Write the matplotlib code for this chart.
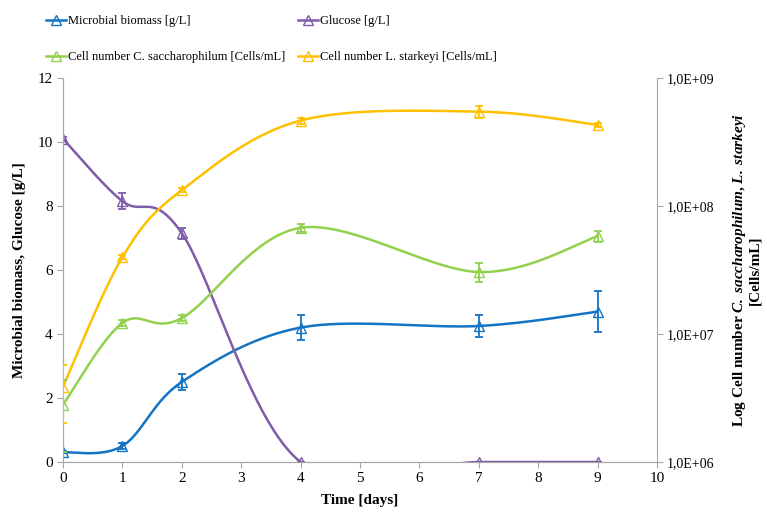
import numpy as np
import matplotlib
matplotlib.use("Agg")
import matplotlib.pyplot as plt
from matplotlib.ticker import FixedLocator, FuncFormatter, NullLocator
from matplotlib.lines import Line2D

plt.rcParams["font.family"] = "Liberation Serif"
plt.rcParams["mathtext.fontset"] = "custom"
plt.rcParams["mathtext.rm"] = "Liberation Serif"
plt.rcParams["mathtext.bf"] = "Liberation Serif:bold"
plt.rcParams["mathtext.it"] = "Liberation Serif:italic"
plt.rcParams["mathtext.bfit"] = "Liberation Serif:bold:italic"

days = [0, 1, 2, 4, 7, 9]

biomass = [0.3, 0.5, 2.5, 4.2, 4.25, 4.7]
biomass_err = [0.03, 0.08, 0.25, 0.38, 0.35, 0.65]

glucose = [10.1, 8.15, 7.15, 0.0, 0.0, 0.0]
glucose_err = [0.05, 0.25, 0.17, 0.0, 0.0, 0.0]

c_sacch = [2.8e6, 1.22e7, 1.33e7, 6.75e7, 3.05e7, 5.8e7]
c_sacch_err = [1.6e6, 0.6e6, 0.7e6, 5.0e6, 5.2e6, 5.8e6]

l_stark = [3.87e6, 3.98e7, 1.33e8, 4.65e8, 5.46e8, 4.3e8]
l_stark_err = [1.85e6, 1.5e6, 5.0e6, 2.6e7, 6.0e7, 1.6e7]

series_labels = ["Microbial biomass [g/L]", "Glucose [g/L]",
                 "Cell number C. saccharophilum [Cells/mL]",
                 "Cell number L. starkeyi [Cells/mL]"]

BLUE = "#1474c4"
PURPLE = "#7e5ca8"
GREEN = "#92d050"
YELLOW = "#ffc000"
GRAY = "#a6a6a6"


def smooth(x, y, n=40):
    # Catmull-Rom style bezier through the points, like a spreadsheet "smoothed line"
    x = np.asarray(x, float)
    y = np.asarray(y, float)
    px = np.concatenate([[x[0]], x, [x[-1]]])
    py = np.concatenate([[y[0]], y, [y[-1]]])
    xs, ys = [], []
    t = np.linspace(0, 1, n)
    for i in range(1, len(px) - 2):
        p0 = np.array([px[i], py[i]])
        p3 = np.array([px[i + 1], py[i + 1]])
        p1 = p0 + (np.array([px[i + 1], py[i + 1]]) - np.array([px[i - 1], py[i - 1]])) / 6
        p2 = p3 - (np.array([px[i + 2], py[i + 2]]) - np.array([px[i], py[i]])) / 6
        b = ((1 - t) ** 3)[:, None] * p0 + (3 * (1 - t) ** 2 * t)[:, None] * p1 \
            + (3 * (1 - t) * t ** 2)[:, None] * p2 + (t ** 3)[:, None] * p3
        xs.append(b[:, 0])
        ys.append(b[:, 1])
    return np.concatenate(xs), np.concatenate(ys)


fig = plt.figure(figsize=(7.67, 5.13), dpi=100)
ax = fig.add_axes([0.0821, 0.0994, 0.7745, 0.7486])
ax2 = ax.twinx()

mk = dict(marker="^", markersize=7, markerfacecolor="none", markeredgewidth=1.0)
eb = dict(fmt="none", capsize=3, elinewidth=1.3, capthick=1.3)

for vals, err, col in [(biomass, biomass_err, BLUE), (glucose, glucose_err, PURPLE)]:
    sx, sy = smooth(days, vals)
    ax.plot(sx, sy, color=col, lw=1.8, zorder=3)
    ax.errorbar(days, vals, yerr=err, ecolor=col, zorder=4, **eb)
    ax.plot(days, vals, ls="none", color=col, markeredgecolor=col, zorder=5, **mk)

for vals, err, col in [(c_sacch, c_sacch_err, GREEN), (l_stark, l_stark_err, YELLOW)]:
    sx, sy = smooth(days, np.log10(vals))
    ax2.plot(sx, 10 ** sy, color=col, lw=1.8, zorder=3)
    ax2.errorbar(days, vals, yerr=err, ecolor=col, zorder=4, **eb)
    ax2.plot(days, vals, ls="none", color=col, markeredgecolor=col, zorder=5, **mk)

ax.set_xlim(0, 10)
ax.set_ylim(0, 12)
ax.set_xticks(range(0, 11))
ax.set_yticks(range(0, 13, 2))
ax2.set_yscale("log")
ax2.set_ylim(1e6, 1e9)
ax2.yaxis.set_major_locator(FixedLocator([1e6, 1e7, 1e8, 1e9]))
ax2.yaxis.set_minor_locator(NullLocator())
ax2.yaxis.set_major_formatter(FuncFormatter(lambda v, p: "1,0E+%02d" % round(np.log10(v))))

for a in (ax, ax2):
    for s in a.spines.values():
        s.set_color(GRAY)
    a.spines["top"].set_visible(False)
    a.tick_params(colors=GRAY, labelcolor="black", labelsize=11, length=4, direction="out")
ax.spines["right"].set_visible(False)
ax2.tick_params(labelsize=10, pad=3)

ax.set_xlabel("Time [days]", fontsize=11, fontweight="bold", labelpad=6)
ax.set_ylabel("Microbial biomass, Glucose [g/L]", fontsize=11, fontweight="bold", labelpad=8)
ax2.set_ylabel(r"Log Cell number $\mathbfit{C.\ saccharophilum}$, $\mathbfit{L.\ starkeyi}$"
               "\n[Cells/mL]", fontsize=11, fontweight="bold", labelpad=12, linespacing=1.0)

# legend entries placed one by one in two rows, two columns
colors = [BLUE, PURPLE, GREEN, YELLOW]
spots = [(46, 21), (298, 21), (46, 57), (298, 57)]
W, H = 767, 513
for lab, col, (px, py) in zip(series_labels, colors, spots):
    h = Line2D([], [], color=col, lw=1.8, markeredgecolor=col, **mk)
    fig.legend([h], [lab], loc="center left", bbox_to_anchor=(px / W, 1 - py / H),
               frameon=False, fontsize=9, handlelength=1.6, handletextpad=0.2,
               borderpad=0, borderaxespad=0)

fig.savefig("out.png", dpi=100)
